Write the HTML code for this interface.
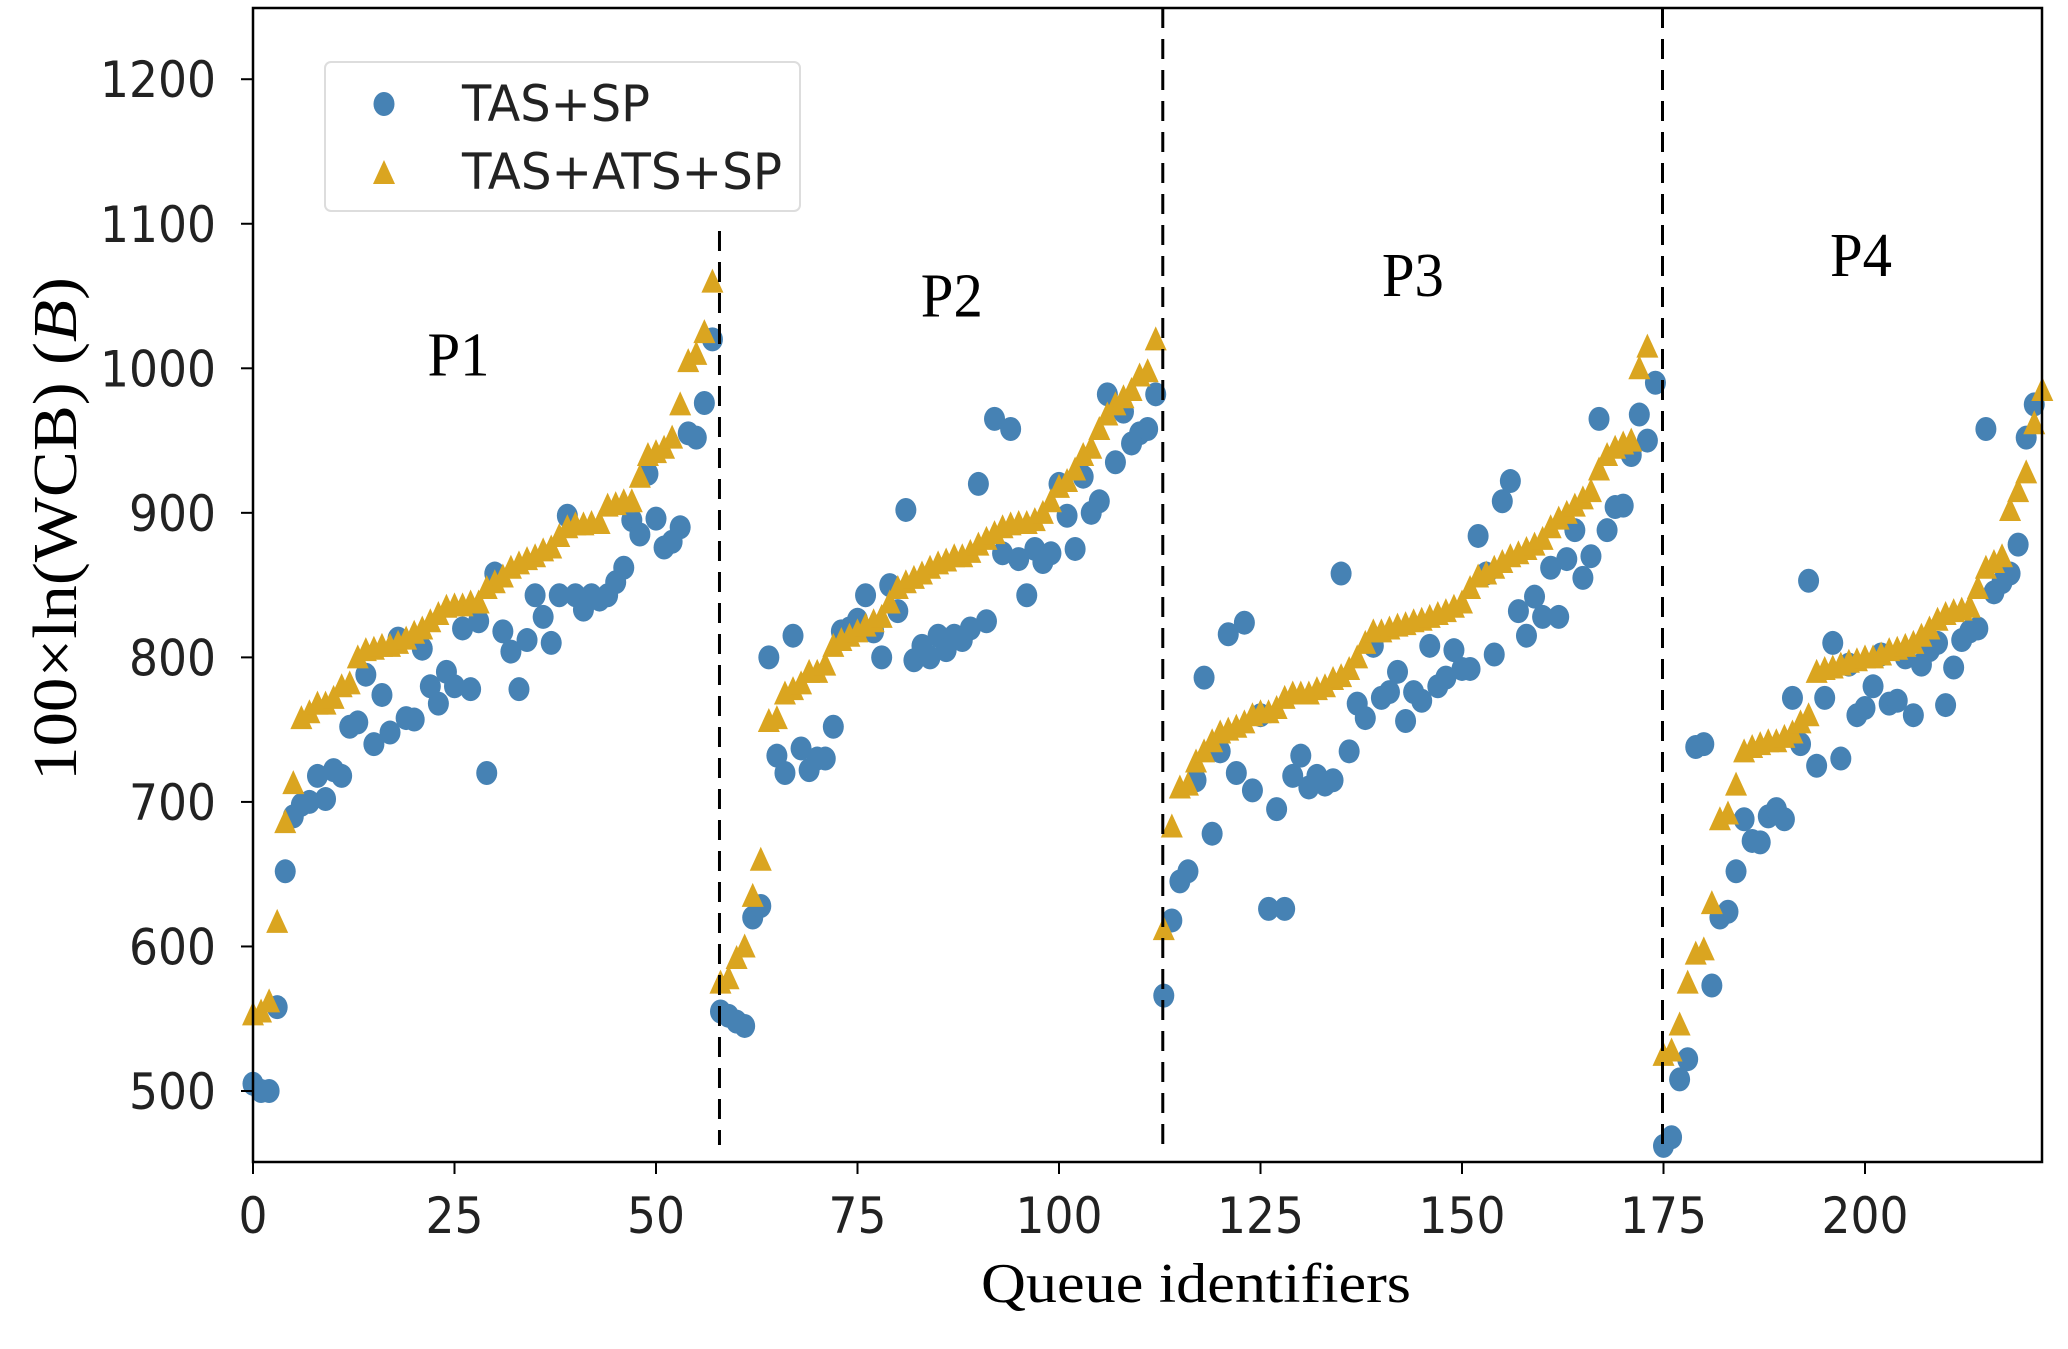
<!DOCTYPE html>
<html><head><meta charset="utf-8"><style>
html,body{margin:0;padding:0;background:#fff;}
svg{display:block;}
</style></head><body>
<svg id="chart" width="2068" height="1349" viewBox="0 0 2068 1349" xmlns="http://www.w3.org/2000/svg">
<rect x="0" y="0" width="2068" height="1349" fill="#fff"/>
<g id="marks"></g>
<g id="axes"></g>
<g>
  <rect x="325" y="62" width="475" height="149" rx="6" fill="#fff" fill-opacity="0.85" stroke="#ddd" stroke-width="2"/>
  <ellipse cx="384" cy="104" rx="10.5" ry="12" fill="#4682b4"/>
  <text x="462" y="121" font-family="'DejaVu Sans', sans-serif" font-size="50" fill="#222" textLength="188" lengthAdjust="spacingAndGlyphs">TAS+SP</text>
  <polygon points="384,160 395,184 373,184" fill="#daa520"/>
  <text x="462" y="189" font-family="'DejaVu Sans', sans-serif" font-size="50" fill="#222" textLength="320" lengthAdjust="spacingAndGlyphs">TAS+ATS+SP</text>
</g>
<text x="1196" y="1302" text-anchor="middle" font-family="'Liberation Serif', serif" font-size="56" fill="#000" textLength="430" lengthAdjust="spacingAndGlyphs">Queue identifiers</text>
<text transform="translate(76,529) rotate(-90)" text-anchor="middle" font-family="'Liberation Serif', serif" font-size="62" fill="#000" textLength="504" lengthAdjust="spacingAndGlyphs">100×ln(WCB) (<tspan font-style="italic">B</tspan>)</text>
</svg>
<script>
// ---- data ----
const xTicks = [0, 25, 50, 75, 100, 125, 150, 175, 200];
const yTicks = [500, 600, 700, 800, 900, 1000, 1100, 1200];
const separators = [58, 113, 175];
const partitionLabels = ['P1', 'P2', 'P3', 'P4'];
const partitionLabelX = [25.5, 86.7, 143.9, 199.5];
const partitionLabelY = [995, 1036, 1050, 1064];
// TAS+SP (circles), queue ids start at 0
const tasSpP1 = [505,500,500,558,652,690,698,700,718,702,722,718,752,755,788,740,774,748,813,758,757,806,780,768,790,780,820,778,825,720,858,818,804,778,812,843,828,810,843,898,843,833,843,840,843,852,862,895,885,927,896,876,880,890,955,952,976,1020];
const tasSpP2 = [555,552,548,545,620,628,800,732,720,815,737,722,730,730,752,818,820,826,843,818,800,850,832,902,798,808,800,815,805,815,812,820,920,825,965,872,958,868,843,875,866,872,920,898,875,925,900,908,982,935,970,948,955,958,982];
const tasSpP3 = [566,618,645,652,715,786,678,735,816,720,824,708,760,626,695,626,718,732,710,718,712,715,858,735,768,758,808,772,776,790,756,776,770,808,780,786,805,792,792,884,858,802,908,922,832,815,842,828,862,828,868,888,855,870,965,888,904,905,940,968,950,990];
const tasSpP4 = [462,468,508,522,738,740,573,620,624,652,688,673,672,690,695,688,772,740,853,725,772,810,730,795,760,765,780,802,768,770,800,760,795,805,810,767,793,812,818,820,958,845,852,858,878,952,975];
// TAS+ATS+SP (triangles)
const tasAtsSpP1 = [553,555,562,617,686,713,758,762,768,768,772,780,782,800,805,806,808,808,810,813,817,820,825,830,835,836,836,838,838,848,852,856,862,865,868,870,874,876,884,890,892,892,893,893,905,906,908,908,925,940,942,945,952,975,1005,1010,1025,1060];
const tasAtsSpP2 = [575,578,592,600,635,660,756,758,775,778,782,790,790,795,808,812,815,818,822,825,828,838,848,852,855,858,862,865,867,870,870,873,878,882,886,890,892,893,893,895,900,908,918,922,930,940,945,958,968,975,980,985,995,998,1020];
const tasAtsSpP3 = [612,683,710,712,728,735,742,748,750,752,755,760,762,762,765,772,775,775,775,778,780,785,787,792,800,810,818,818,820,822,823,825,826,828,830,832,835,838,848,856,858,862,866,870,872,875,878,882,890,896,900,905,910,915,930,940,945,948,950,1000,1015];
const tasAtsSpP4 = [525,528,546,575,595,598,630,688,692,712,735,738,740,742,742,745,748,755,760,790,792,793,795,797,798,800,800,802,805,806,808,810,815,820,826,830,832,833,835,848,862,866,870,902,915,928,962,985];
const startIds = [0, 58, 113, 175];

// ---- scales ----
const X0 = 253, PX_PER_X = 8.06;
const Y500 = 1091, PX_PER_Y = 1.4454;
const xS = v => X0 + v * PX_PER_X;
const yS = v => Y500 - (v - 500) * PX_PER_Y;
const L = 253, R = 2042, T = 8, B = 1162;
const NS = 'http://www.w3.org/2000/svg';
const marks = document.getElementById('marks');
const axes = document.getElementById('axes');
function mk(tag, attrs, parent) {
  const e = document.createElementNS(NS, tag);
  for (const k in attrs) e.setAttribute(k, attrs[k]);
  parent.appendChild(e);
  return e;
}
const BLUE = '#4682b4', GOLD = '#daa520';

[tasSpP1, tasSpP2, tasSpP3, tasSpP4].forEach((arr, p) => {
  arr.forEach((v, i) => {
    const c = mk('ellipse', {cx: xS(startIds[p] + i), cy: yS(v), rx: 10.5, ry: 12, fill: BLUE}, marks);
    
    
  });
});
[tasAtsSpP1, tasAtsSpP2, tasAtsSpP3, tasAtsSpP4].forEach((arr, p) => {
  arr.forEach((v, i) => {
    const cx = xS(startIds[p] + i), cy = yS(v);
    const t = mk('polygon', {points: `${cx},${cy-13} ${cx+11},${cy+11} ${cx-11},${cy+11}`, fill: GOLD}, marks);
    
    
  });
});
separators.forEach((s, i) => {
  const y1 = i === 0 ? 231 : T;
  const ln = mk('line', {x1: xS(s) - 1, x2: xS(s) - 1, y1: y1, y2: 1145, stroke: '#000', 'stroke-width': 3, 'stroke-dasharray': '20,11'}, axes);
  
  
});
partitionLabels.forEach((lab, i) => {
  const t = mk('text', {x: xS(partitionLabelX[i]), y: yS(partitionLabelY[i]), 'text-anchor': 'middle', 'font-family': '"Liberation Serif", serif', 'font-size': 62, fill: '#000', textLength: 62, lengthAdjust: 'spacingAndGlyphs'}, axes);
  t.textContent = lab;
  
  
});
const fr = mk('rect', {x: L, y: T, width: R - L, height: B - T, fill: 'none', stroke: '#000', 'stroke-width': 2.5}, axes);


xTicks.forEach(v => {
  const x = xS(v);
  const tk = mk('line', {x1: x, x2: x, y1: B, y2: B + 12, stroke: '#000', 'stroke-width': 2}, axes);
  
  
  const s = String(v);
  const t = mk('text', {x: x, y: 1233, 'text-anchor': 'middle', 'font-family': '"DejaVu Sans", sans-serif', 'font-size': 50, fill: '#222', textLength: s.length * 29, lengthAdjust: 'spacingAndGlyphs'}, axes);
  t.textContent = s;
  
  
});
yTicks.forEach(v => {
  const y = yS(v);
  const tk = mk('line', {x1: L - 12, x2: L, y1: y, y2: y, stroke: '#000', 'stroke-width': 2}, axes);
  
  
  const s = String(v);
  const t = mk('text', {x: 216, y: y + 18, 'text-anchor': 'end', 'font-family': '"DejaVu Sans", sans-serif', 'font-size': 50, fill: '#222', textLength: s.length * 29, lengthAdjust: 'spacingAndGlyphs'}, axes);
  t.textContent = s;
  
  
});
</script>
</body></html>
